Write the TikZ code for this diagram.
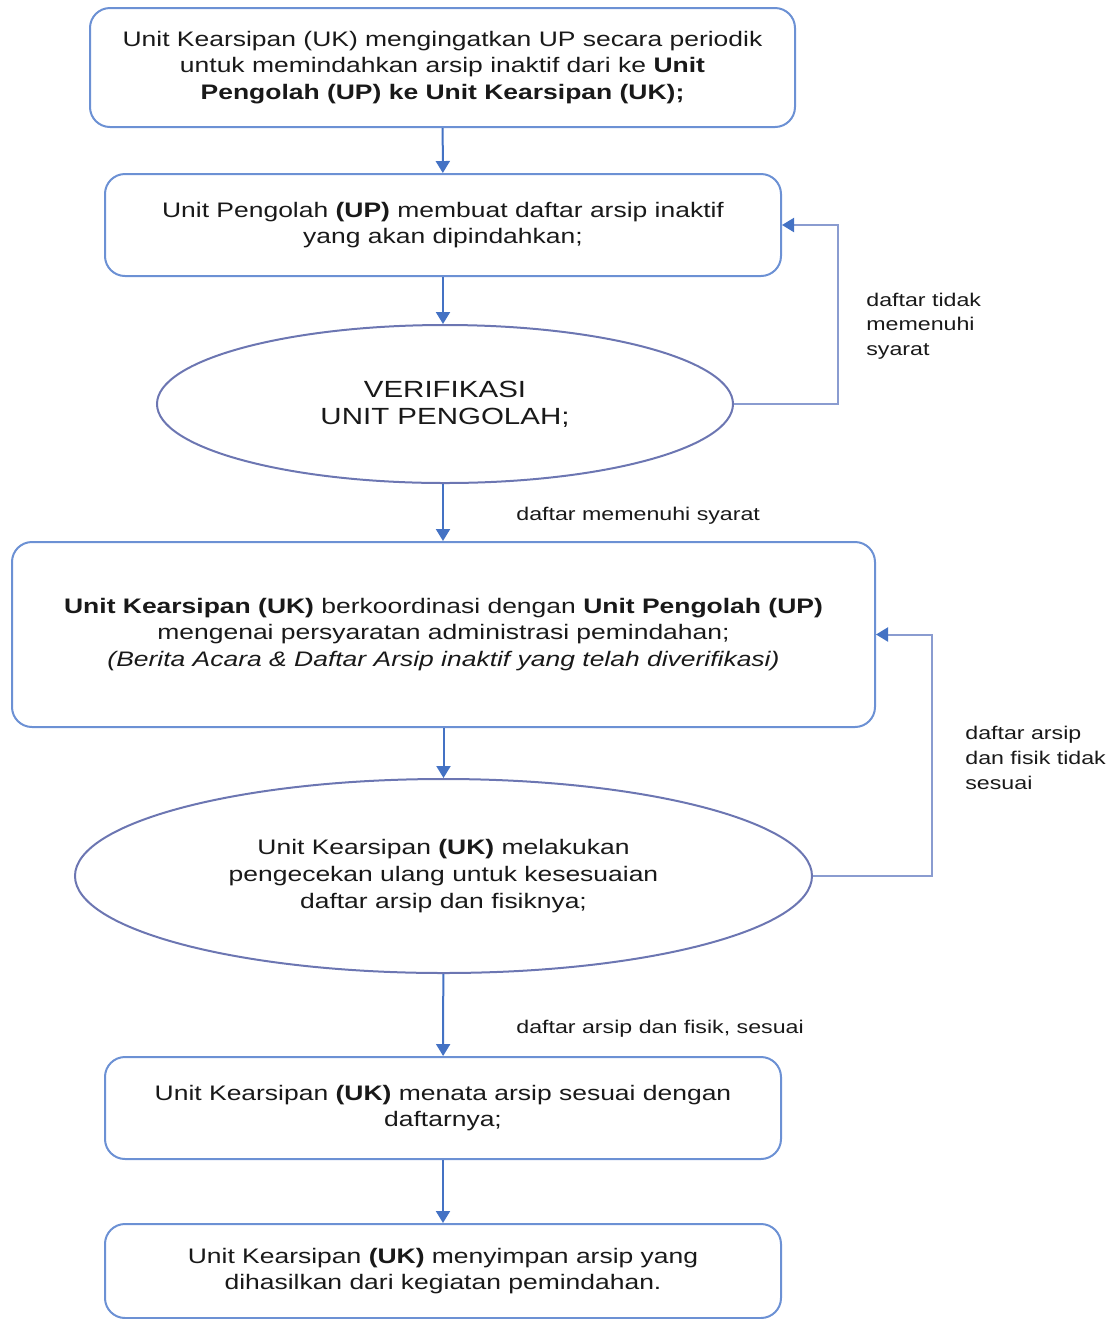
\documentclass[tikz,border=0pt]{standalone}
\usepackage{fontspec}
\setmainfont{Liberation Sans}[FakeStretch=1.26]
\usetikzlibrary{shapes.geometric,arrows.meta}
\definecolor{boxline}{RGB}{108,145,212}
\definecolor{ellline}{RGB}{108,118,178}
\definecolor{arrowblue}{RGB}{68,114,196}
\definecolor{backline}{RGB}{138,156,208}
\definecolor{txt}{RGB}{25,25,25}
\begin{document}
\begin{tikzpicture}[x=0.5pt, y=-0.5pt,
    every node/.style={text=txt},
    stepbox/.style={draw=boxline, line width=1pt, rounded corners=10pt, align=center, inner sep=0pt,
        font=\fontsize{10.5}{13.4}\selectfont},
    checkbox/.style={draw=ellline, line width=1pt, ellipse, align=center, inner sep=0pt},
    flow/.style={draw=arrowblue, line width=1pt, -{Triangle[length=6pt, width=7pt]}},
    back/.style={draw=backline, line width=1pt, -{Triangle[length=6pt, width=7pt, color=arrowblue]}},
    note/.style={anchor=west, align=left, inner sep=0pt, font=\fontsize{9.2}{12.3}\selectfont}]
    \useasboundingbox (0,0) rectangle (1120,1319);

    % Draw steps
    \node[stepbox, minimum width=352.5pt, minimum height=59.5pt] (ingat) at (442.5,67.5)
        {Unit Kearsipan (UK) mengingatkan UP secara periodik\\
         untuk memindahkan arsip inaktif dari ke \textbf{Unit}\\
         \textbf{Pengolah (UP) ke Unit Kearsipan (UK);}};
    \node[stepbox, minimum width=338pt, minimum height=51pt] (daftar) at (443,225)
        {Unit Pengolah \textbf{(UP)} membuat daftar arsip inaktif\\
         yang akan dipindahkan;};
    \node[checkbox, minimum width=288pt, minimum height=79pt, font=\fontsize{11.7}{13.6}\selectfont] (verif) at (445,404)
        {VERIFIKASI\\UNIT PENGOLAH;};
    \node[stepbox, minimum width=431.5pt, minimum height=92.5pt] (koord) at (443.5,634.5)
        {\textbf{Unit Kearsipan (UK)} berkoordinasi dengan \textbf{Unit Pengolah (UP)}\\
         mengenai persyaratan administrasi pemindahan;\\
         \textit{(Berita Acara \& Daftar Arsip inaktif yang telah diverifikasi)}};
    \node[checkbox, minimum width=368.5pt, minimum height=97pt, font=\fontsize{10.5}{13.4}\selectfont] (cek) at (443.5,876)
        {Unit Kearsipan \textbf{(UK)} melakukan\\
         pengecekan ulang untuk kesesuaian\\
         daftar arsip dan fisiknya;};
    \node[stepbox, minimum width=338pt, minimum height=51pt] (tata) at (443,1108)
        {Unit Kearsipan \textbf{(UK)} menata arsip sesuai dengan\\
         daftarnya;};
    \node[stepbox, minimum width=338pt, minimum height=47pt] (simpan) at (443,1271)
        {Unit Kearsipan \textbf{(UK)} menyimpan arsip yang\\
         dihasilkan dari kegiatan pemindahan.};

    % Draw edges
    \draw[flow] (ingat) -- (daftar);
    \draw[flow] (daftar.south) -- (daftar.south |- verif.north);
    \draw[flow] (verif.south -| daftar.south) -- (koord.north -| daftar.south);
    \draw[flow] (koord) -- (koord.north |- cek.north);
    \draw[flow] (cek) -- (tata);
    \draw[flow] (tata) -- (simpan);

    % Loops back
    \draw[back] (verif.east) -- ++(104,0) |- (daftar.east);
    \draw[back] (cek.east) -- ++(119,0) |- (koord.east);

    % Labels
    \node[note] (tidak1) at (866,326) {daftar tidak\\memenuhi\\syarat};
    \node[note] (tidak2) at (965,758) {daftar arsip\\dan fisik tidak\\sesuai};
    \node[note] (ya1) at (516,516) {daftar memenuhi syarat};
    \node[note] (ya2) at (516,1029) {daftar arsip dan fisik, sesuai};
\end{tikzpicture}
\end{document}
